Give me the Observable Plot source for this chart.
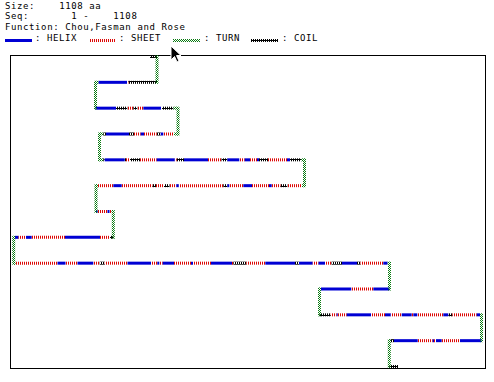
<!DOCTYPE html>
<html><head><meta charset="utf-8">
<script src="https://cdn.jsdelivr.net/npm/d3@7"></script>
<script src="https://cdn.jsdelivr.net/npm/@observablehq/plot@0.6"></script>
<style>
body{margin:0;background:#fff;}
#wrap{position:relative;width:494px;height:382px;overflow:hidden;background:#fff;}
#head{position:absolute;left:0;top:0;}
#chart{position:absolute;left:0;top:50px;}
#chart svg{display:block;}
#cursor{position:absolute;left:0;top:0;pointer-events:none;}
text{font-family:"DejaVu Sans Mono",monospace;font-size:9px;letter-spacing:0.6px;fill:#000;}
</style></head><body>
<div id="wrap">
<svg id="head" width="494" height="50" xmlns="http://www.w3.org/2000/svg">
<defs>
<pattern id="pH" patternUnits="userSpaceOnUse" x="-0.5" y="-0.5" width="2" height="2"><rect width="2" height="2" fill="#0000d4"/></pattern>
<pattern id="pE" patternUnits="userSpaceOnUse" x="-0.5" y="-0.5" width="2" height="1"><rect width="1" height="1" fill="#dd0806"/></pattern>
<pattern id="pT" patternUnits="userSpaceOnUse" x="-0.5" y="-0.5" width="2" height="2"><rect width="1" height="1" fill="#0a7a12"/><rect x="1" y="1" width="1" height="1" fill="#0a7a12"/></pattern>
<pattern id="pC" patternUnits="userSpaceOnUse" x="-0.5" y="-0.5" width="2" height="3"><rect x="1" y="0" width="1" height="3" fill="#000"/><rect x="0" y="1" width="2" height="1" fill="#000"/></pattern>
</defs>
<g id="headText"></g>
<g id="legend" transform="translate(0.5,0.5)"></g>
</svg>
<div id="chart"></div>
<svg id="cursor" width="494" height="382"><path d="M171,46 L171,60 L174.5,56.5 L177,62 L179,61 L176.5,55.5 L181,55.5 Z" fill="#000" stroke="#fff" stroke-width="1"/></svg>
</div>
<script>
// ---- header text ----
const headerLines = ["Size:    1108 aa", "Seq:       1 -    1108", "Function: Chou,Fasman and Rose"];
// ---- legend ----
const legendTypes = ["H", "E", "T", "C"];
const legendLabels = [": HELIX", ": SHEET", ": TURN", ": COIL"];
// ---- structure path: start position and runs per row, in sequence order ----
// rows alternate direction (row 0 runs right); a turn (vertical step) joins each row to the next
const startUnit = 140;
const rowRuns = [
  [["C",7]],
  [["C",28.5],["E",1.5],["H",28.5],["T",3]],
  [["H",20.5],["C",11.3],["E",6],["C",4],["E",6],["H",17.7],["E",1],["C",11.3],["T",4.7]],
  [["T",4],["E",10.7],["H",2.6],["C",4],["E",12.7],["H",3.3],["E",6.7],["C",5],["H",23],["C",2.7],["T",3.8]],
  [["T",3.8],["C",1.4],["H",20],["C",1.3],["E",4],["C",10],["E",16.7],["H",18],["E",2],["C",7.3],["H",24],["E",13.5],["C",5.8],["H",12],["E",5.4],["H",5.3],["E",7],["H",2],["C",9],["E",19],["H",3],["C",11],["T",3.5]],
  [["T",2.5],["E",14.7],["C",6.8],["E",8.8],["H",2.7],["E",17],["H",8.7],["E",14],["H",2],["C",4],["E",44.6],["H",2.4],["E",6.8],["C",5.5],["E",8],["C",3.5],["E",30.8],["H",8.4],["E",15.3],["T",2]],
  [["H",1.5],["E",10],["H",2],["E",2],["T",1.8]],
  [["C",3.3],["E",10],["H",35],["E",33.3],["H",5.7],["E",7.7],["H",3.3],["T",1.3]],
  [["T",1.8],["E",42],["H",8],["E",12],["H",15.8],["E",6.4],["C",5],["E",22.8],["H",23.5],["E",6.3],["H",2],["E",3.4],["H",11.3],["E",17],["H",2],["E",18],["H",21],["E",1.3],["C",13],["E",19],["H",29.7],["C",4],["H",13.5],["E",6],["H",6.5],["E",6.5],["C",10.5],["H",15],["C",3.5],["E",22.8],["H",4.2],["T",2]],
  [["H",16.2],["E",22],["H",30.3],["T",1.5]],
  [["C",11.2],["E",6],["H",1],["E",9],["H",24.3],["E",14],["H",5.7],["E",11],["H",10],["E",1.6],["H",4],["E",26],["H",5],["C",4],["E",24.4],["H",3.3],["T",1.5]],
  [["H",21.5],["E",18.3],["H",5.7],["E",2],["H",1.3],["E",15],["H",23.7],["C",3.3],["T",1.4]],
  [["C",8.7]]
];

const paint = {H: "url(#pH)", E: "url(#pE)", T: "url(#pT)", C: "url(#pC)"};

// header
const ht = d3.select("#headText");
const lineY = [9, 19, 30];
headerLines.forEach((s, i) => ht.append("text").attr("x", 5).attr("y", lineY[i]).style("white-space","pre").text(s));
// legend
const lg = d3.select("#legend");
const legX = [5, 89, 173, 251];
const legTextX = [35, 119, 204, 282];
legendTypes.forEach((t, i) => {
  lg.append("rect").attr("x", legX[i] - 0.5).attr("y", 38.5).attr("width", 27).attr("height", 3).attr("fill", paint[t]);
  ht.append("text").attr("x", legTextX[i]).attr("y", 41).style("white-space","pre").text(legendLabels[i]);
});

// build segments from runs
const segs = [];
const turns = [];
let cur = startUnit;
rowRuns.forEach((runs, k) => {
  const dir = k % 2 === 0 ? 1 : -1;
  for (const [t, len] of runs) {
    const nx = cur + dir * len;
    segs.push({type: t, x1: cur, x2: nx, row: k});
    cur = nx;
  }
  if (k < rowRuns.length - 1) turns.push({x: cur, y1: k, y2: k + 1});
});

const chart = Plot.plot({
  width: 494,
  height: 332,
  marginLeft: 10, marginRight: 9, marginTop: 5, marginBottom: 14,
  x: {domain: [0, 475], range: [9.5, 484.5], axis: null},
  y: {domain: [0, 12], range: [6, 316], axis: null},
  marks: [
    Plot.frame({stroke: "#000"}),
    ...["E", "C", "H", "T"].map(t => Plot.link(segs.filter(d => d.type === t), {
      x1: "x1", x2: "x2", y1: "row", y2: "row", stroke: paint[t], strokeWidth: 3, strokeOpacity: 1
    })),
    Plot.link(turns, {x1: "x", x2: "x", y1: "y1", y2: "y2", stroke: paint.T, strokeWidth: 3, strokeLinecap: "square", strokeOpacity: 1})
  ]
});
document.getElementById("chart").appendChild(chart);
</script>
</body></html>
